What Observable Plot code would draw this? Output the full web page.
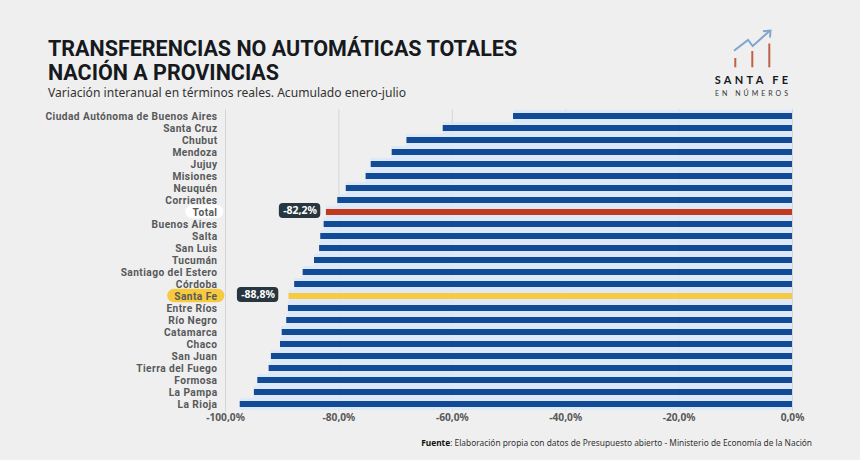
<!DOCTYPE html>
<html lang="es">
<head>
<meta charset="utf-8">
<script src="https://cdn.jsdelivr.net/npm/d3@7"></script>
<script src="https://cdn.jsdelivr.net/npm/@observablehq/plot@0.6"></script>
<style>
  html, body { margin: 0; padding: 0; background: #efefef; width: 860px; height: 460px; overflow: hidden; }
  #header { position: relative; height: 105px; width: 860px; }
  h1 { position: absolute; left: 48px; top: 37px; margin: 0; font: 700 21.5px/23.5px Roboto, sans-serif; letter-spacing: 0; color: #16191d; white-space: nowrap; }
  #sub { position: absolute; left: 48px; top: 85px; font: 400 12.1px/16px "Noto Sans", sans-serif; color: #333; white-space: nowrap; }
  #logo { position: absolute; left: 714px; top: 27px; }
  #chart { height: 330px; }
  #chart svg { display: block; background: transparent; }
  #chart svg g[aria-label="y-axis tick label"] { letter-spacing: 0.42px; }
  #caption { position: absolute; right: 48px; top: 436px; font: 400 8.35px/13px "Noto Sans", sans-serif; color: #333; white-space: nowrap; }
  #caption b { color: #111; }
</style>
</head>
<body>
<div id="header">
  <h1>TRANSFERENCIAS NO AUTOMÁTICAS TOTALES<br>NACIÓN A PROVINCIAS</h1>
  <div id="sub">Variación interanual en términos reales. Acumulado enero-julio</div>
  <svg id="logo" width="90" height="72" viewBox="0 0 90 72">
    <polyline points="20,23.7 34,13 38.7,19 55.5,4" fill="none" stroke="#7fa6cf" stroke-width="2"/>
    <polyline points="49,4.2 56.5,3.5 56,10.5" fill="none" stroke="#7fa6cf" stroke-width="2"/>
    <line x1="21.3" y1="31" x2="21.3" y2="40.3" stroke="#c0604a" stroke-width="2"/>
    <line x1="38.3" y1="24" x2="38.3" y2="40.3" stroke="#c0604a" stroke-width="2"/>
    <line x1="55.3" y1="16.5" x2="55.3" y2="40.3" stroke="#c0604a" stroke-width="2"/>
    <text x="39" y="57" text-anchor="middle" font-family="Lato, sans-serif" font-weight="700" font-size="11" letter-spacing="3.3" fill="#16191d">SANTA FE</text>
    <text x="39" y="68.5" text-anchor="middle" font-family="Lato, sans-serif" font-size="7" letter-spacing="3" fill="#333">EN NÚMEROS</text>
  </svg>
</div>
<div id="chart"></div>
<div id="caption"><b>Fuente</b>: Elaboración propia con datos de Presupuesto abierto - Ministerio de Economía de la Nación</div>
<script>
const provincias = ["Ciudad Autónoma de Buenos Aires","Santa Cruz","Chubut","Mendoza","Jujuy","Misiones","Neuquén","Corrientes","Total","Buenos Aires","Salta","San Luis","Tucumán","Santiago del Estero","Córdoba","Santa Fe","Entre Ríos","Río Negro","Catamarca","Chaco","San Juan","Tierra del Fuego","Formosa","La Pampa","La Rioja"];
const variacion = [-49.2,-61.6,-68.0,-70.6,-74.3,-75.2,-78.7,-80.2,-82.2,-82.6,-83.2,-83.4,-84.3,-86.3,-87.8,-88.8,-88.9,-89.2,-90.0,-90.3,-91.9,-92.3,-94.3,-94.9,-97.4];
const xTicks = [-100,-80,-60,-40,-20,0];
const xTickLabels = ["-100,0%","-80,0%","-60,0%","-40,0%","-20,0%","0,0%"];
const pillRows = ["Total","Santa Fe"];
const pillText = ["-82,2%","-88,8%"];
const pillFrom = [-90.5,-97.9];
const pillTo = [-83.2,-90.6];
const tagRows = ["Total","Santa Fe"];
const tagFrom = [-107,-110.2];
const tagTo = [-100.3,-100.1];
const tagFill = ["#ffffff","#f7c93e"];

const rows = provincias.map((p,i)=>({p, v:variacion[i]}));
const pills = pillRows.map((p,i)=>({p, t:pillText[i], a:pillFrom[i], b:pillTo[i]}));
const tags = tagRows.map((p,i)=>({p, a:tagFrom[i], b:tagTo[i], f:tagFill[i]}));
const colorOf = d => d.p==="Total" ? "#c2391f" : d.p==="Santa Fe" ? "#f8ca42" : "#114a96";

const plot = Plot.plot({
  width: 860, height: 330,
  marginLeft: 225, marginRight: 68, marginTop: 4, marginBottom: 23.5,
  style: {background:"transparent", overflow:"visible"},
  x: {domain:[-100,0], ticks:xTicks},
  y: {domain:provincias, padding:0.04, align:0.5},
  marks: [
    Plot.ruleX(xTicks, {stroke:"#d6d6da", strokeWidth:1}),
    Plot.barX(tags, {x1:"a", x2:"b", y:"p", fill:"f", rx:7, insetTop:-0.8, insetBottom:-0.8, dy:-0.5}),
    Plot.barX(rows, {x:"v", y:"p", fill:"#dbe8f8", fillOpacity:0.85}),
    Plot.barX(rows, {x:"v", y:"p", fill:colorOf, insetTop:3, insetBottom:3}),
    Plot.barX(pills, {x1:"a", x2:"b", y:"p", fill:"#27363f", rx:4, insetTop:-1.5, insetBottom:-1.5, dy:-1.5}),
    Plot.text(pills, {x:d=>(d.a+d.b)/2, y:"p", text:"t", fill:"#fff", fontWeight:700, fontSize:10.5, dy:-1.5, fontFamily:"'Noto Sans',sans-serif"}),
    Plot.axisY({tickSize:0, tickPadding:8, label:null, anchor:"left", fontFamily:"Roboto,sans-serif", fontSize:10.2, fontWeight:700, fill:"#58595b"}),
    Plot.axisX({anchor:"bottom", ticks:xTicks, tickSize:0, tickPadding:2, label:null, tickFormat:(d)=>xTickLabels[xTicks.indexOf(d)], fontFamily:"'Noto Sans',sans-serif", fontSize:10.2, fontWeight:700, fill:"#58595b"})
  ]
});
document.getElementById("chart").append(plot);
</script>
</body>
</html>
